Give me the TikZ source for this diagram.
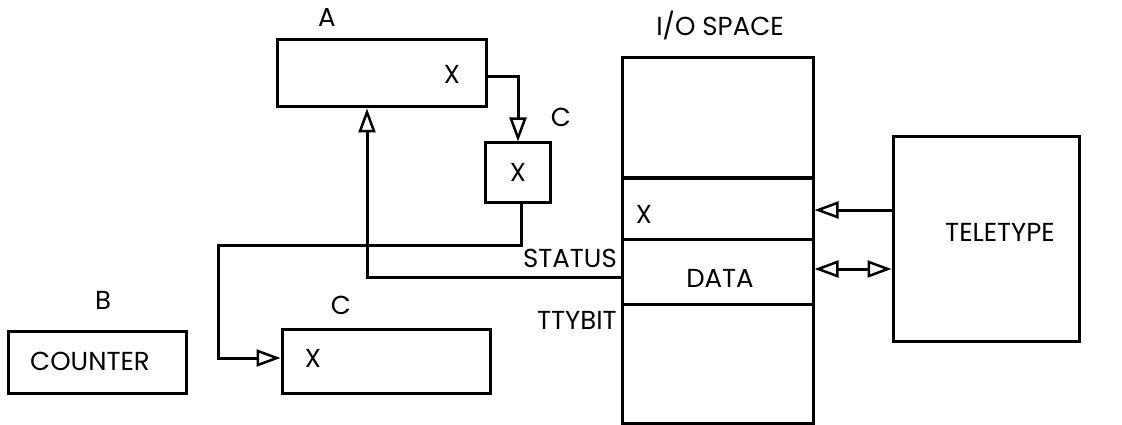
\documentclass[tikz,border=0pt]{standalone}
\usepackage{fontspec}
\setmainfont{Poppins}
\usetikzlibrary{arrows.meta}
\begin{document}
\begin{tikzpicture}[x=1pt,y=-1pt,
  box/.style={draw,line width=3pt,inner sep=0pt},
  lbl/.style={font=\fontsize{26}{28}\selectfont,inner sep=0pt},
  wire/.style={line width=3pt},
  tp/.tip={Triangle[open,length=24pt,width=17pt,line width=2.5pt]},
  tip/.style={-tp}]
\useasboundingbox (0,0) rectangle (1122,425);
% boxes
\node[box,minimum width=209pt,minimum height=67pt] (A) at (381.5,73.5) {};
\node[box,minimum width=65pt,minimum height=59pt] (Cs) at (517.5,172.5) {};
\node[box,minimum width=208pt,minimum height=64pt] (Cb) at (386,361) {};
\node[box,minimum width=178pt,minimum height=62pt] (B) at (97,362) {};
\node[box,minimum width=191pt,minimum height=365pt] (IO) at (717.5,240.5) {};
\node[box,minimum width=186pt,minimum height=204pt] (T) at (986,239) {};
% I/O dividers
\coordinate (d1l) at (622,178); \coordinate (d1r) at (813,178);
\coordinate (d2l) at (622,239); \coordinate (d2r) at (813,239);
\coordinate (d3l) at (622,304); \coordinate (d3r) at (813,304);
\draw[wire] (d1l) -- (d1r);
\draw[wire] (d2l) -- (d2r);
\draw[wire] (d3l) -- (d3r);
% labels
\node[lbl] (lA) at (327,17) {A};
\node[lbl] (xA) at (452,74) {X};
\node[lbl] (lCs) at (561,117) {C};
\node[lbl] (xCs) at (518,172) {X};
\node[lbl] (lCb) at (341,305) {C};
\node[lbl] (xCb) at (313,358) {X};
\node[lbl] (lB) at (103,300) {B};
\node[lbl] (cnt) at (90,361) {COUNTER};
\node[lbl] (lIO) at (720,25) {I/O SPACE};
\node[lbl] (xIO) at (644,214) {X};
\node[lbl] (data) at (720,278) {DATA};
\node[lbl,anchor=east] (status) at (617,258) {STATUS};
\node[lbl,anchor=east] (tty) at (617,320) {TTYBIT};
\node[lbl] (tt) at (1000,232) {TELETYPE};
% connectors
\coordinate (a1) at (518,77);
\draw[wire,tip] (A.east |- a1) -- (a1) -- (a1 |- Cs.north);
\coordinate (s1) at (521,245);
\coordinate (s2) at (218,245);
\coordinate (s3) at (218,358);
\draw[wire,tip] (s1 |- Cs.south) -- (s1) -- (s2) -- (s3) -- (Cb.west |- s3);
\coordinate (st1) at (367,277);
\draw[wire,tip] (IO.west |- st1) -- (st1) -- (st1 |- A.south);
\coordinate (t1) at (893,210);
\draw[wire,tip] (t1) -- (IO.east |- t1);
\coordinate (t2) at (893,269);
\draw[wire,tp-tp] (IO.east |- t2) -- (T.west |- t2);
\end{tikzpicture}
\end{document}
